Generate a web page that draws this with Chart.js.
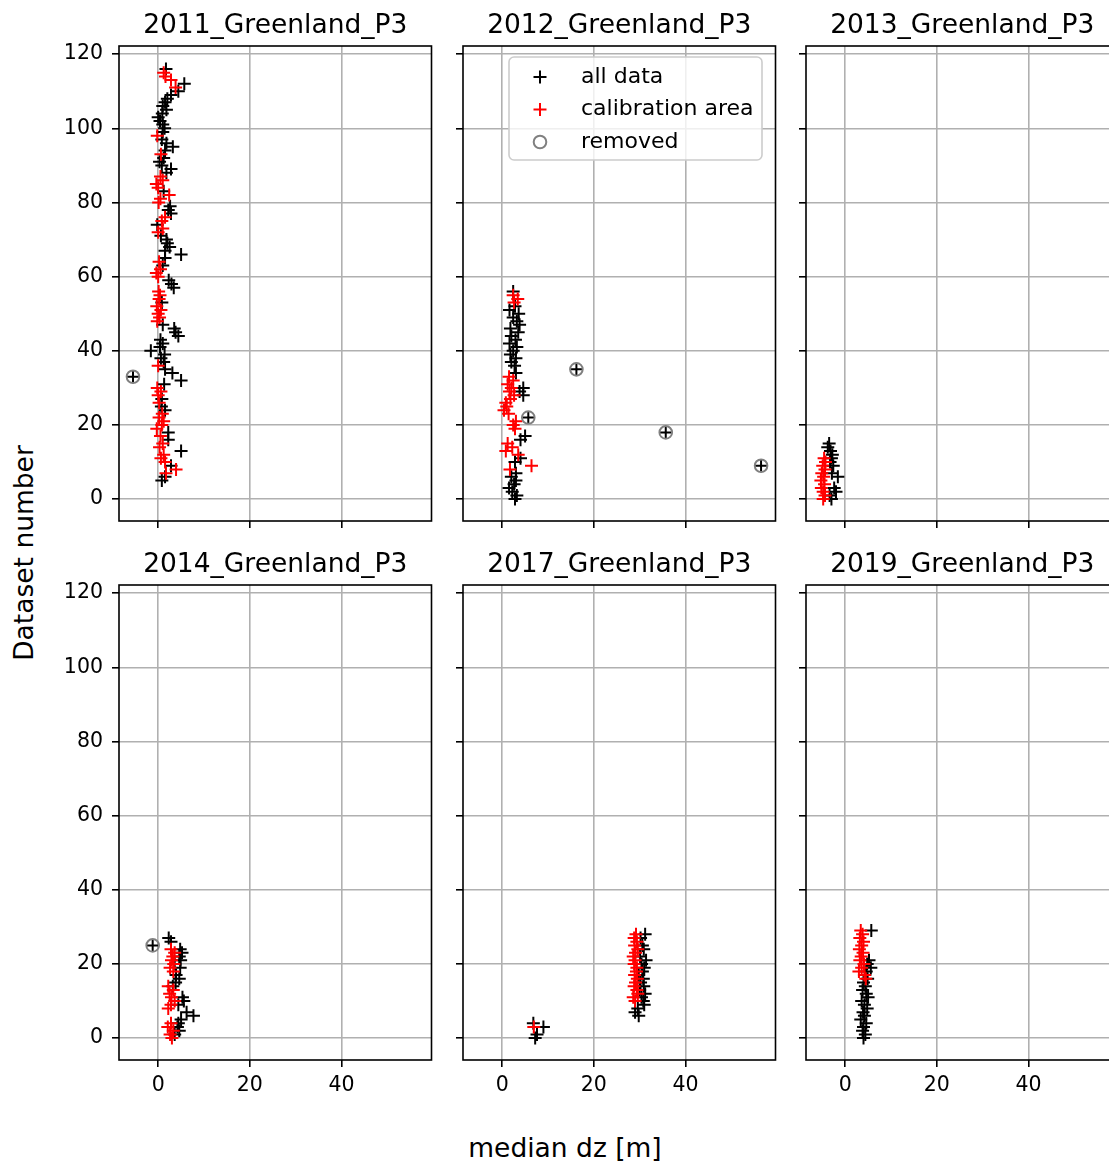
<!DOCTYPE html>
<html>
<head>
<meta charset="utf-8">
<script src="https://cdn.jsdelivr.net/npm/chart.js@4.4.1/dist/chart.umd.min.js"></script>
<style>
html, body { margin: 0; padding: 0; background: #fff; }
body { width: 1109px; height: 1162px; position: relative; overflow: hidden; font-family: "DejaVu Sans", sans-serif; }
.panel { position: absolute; }
.label { position: absolute; font-size: 26.5px; color: #000; white-space: nowrap; line-height: 1; }
</style>
</head>
<body>
<div class="label" id="xlab" style="left:565px; top:1148px; transform:translate(-50%,-50%);">median dz [m]</div>
<div class="label" id="ylab" style="left:24px; top:553px; transform:translate(-50%,-50%) rotate(-90deg);">Dataset number</div>
<script>
const titles = ['2011_Greenland_P3', '2012_Greenland_P3', '2013_Greenland_P3',
                '2014_Greenland_P3', '2017_Greenland_P3', '2019_Greenland_P3'];
const seriesLabels = ['all data', 'calibration area', 'removed'];
const xTicks = [0, 20, 40];
const yTicks = [0, 20, 40, 60, 80, 100, 120];

// [dataset number, median dz]  -- points not in the calibration area
const other2011 = [[5,0.8],[6,1.5],[9,2.8],[13,5.0],[16,2.2],[18,2.2],[24,1.5],[25,0.7],[27,0.8],[31,1.3],
  [32,5.0],[34,3.1],[35,1.5],[37,1.2],[38,0.6],[39,1.4],[40,-1.6],[41,0.4],[42,1.0],[43,0.5],[44,4.4],
  [45,3.8],[46,3.5],[47,1.0],[53,0.8],[57,3.4],[58,2.9],[59,2.3],[63,1.0],[65,1.5],[66,5.0],[67,1.5],
  [68,2.5],[69,2.0],[70,1.8],[71,0.6],[74,-0.2],[77,2.8],[78,2.2],[79,2.6],[83,1.2],[88,1.8],[89,2.8],
  [90,0.8],[91,0.3],[92,1.2],[94,1.5],[95,3.2],[96,1.8],[97,0.8],[99,1.0],[100,1.4],[101,1.0],[102,0.4],
  [103,0.0],[104,0.9],[105,1.8],[106,1.0],[107,1.5],[108,2.0],[109,2.8],[110,4.4],[112,5.7],[116,1.7]];
const calib2011 = [[7,1.7],[8,3.9],[10,1.5],[11,0.6],[12,1.2],[14,0.3],[15,1.0],[17,0.5],[19,-0.3],[20,0.8],
  [21,1.2],[22,0.2],[23,0.9],[26,0.2],[28,0.0],[29,0.6],[30,-0.2],[36,0.0],[48,-0.2],[49,0.3],[50,0.0],
  [51,0.6],[52,-0.3],[54,0.2],[55,0.4],[56,0.1],[60,0.0],[61,-0.4],[62,0.5],[64,0.2],[72,0.0],[73,1.0],
  [75,0.8],[76,1.5],[80,0.1],[81,0.5],[82,2.4],[84,0.0],[85,-0.4],[86,1.0],[87,0.5],[93,0.6],[98,-0.2],
  [111,3.8],[113,2.8],[114,1.6],[115,1.2]];
const removed2011 = [[33,-5.5]];

const other2012 = [[0,2.8],[1,3.2],[2,2.2],[3,1.5],[4,2.6],[5,3.0],[6,2.0],[7,3.0],[10,2.8],[11,4.0],
  [16,4.0],[17,5.0],[28,4.6],[29,3.8],[30,4.6],[34,3.0],[36,2.7],[37,2.0],[38,3.0],[39,1.8],[40,2.4],
  [41,3.2],[42,1.6],[43,2.9],[44,2.0],[45,3.5],[46,1.8],[47,3.8],[48,3.2],[49,2.4],[50,3.6],[51,1.6],
  [52,2.8],[56,2.4]];
const calib2012 = [[8,1.7],[9,6.4],[12,3.5],[13,0.8],[14,2.2],[15,1.2],[19,2.8],[20,2.4],[21,3.0],[23,1.4],
  [24,0.4],[25,1.0],[26,0.8],[27,1.8],[28,2.6],[29,1.6],[30,2.0],[31,1.2],[32,2.4],[33,1.5],[53,2.6],
  [54,3.4],[55,2.4]];
const removed2012 = [[22,5.7],[35,16.2],[18,35.7],[9,56.5]];

const other2013 = [[15,-3.5],[14,-3.8],[13,-3.2],[12,-2.8],[11,-3.0],[10,-3.3],[9,-2.6],[7,-2.9],[6,-1.6],
  [3,-2.4],[2,-2.0],[1,-3.4],[0,-3.0]];
const calib2013 = [[11,-4.6],[10,-4.3],[9,-4.9],[8,-4.4],[7,-5.1],[6,-4.7],[5,-5.3],[4,-4.5],[3,-5.2],
  [2,-4.8],[1,-4.4],[0,-4.8]];
const removed2013 = [];

const other2014 = [[27,2.3],[26,2.8],[24,4.8],[23,5.2],[22,4.6],[21,4.9],[20,3.6],[19,4.8],[17,3.9],
  [16,4.6],[15,3.8],[14,3.2],[11,5.3],[10,5.6],[9,4.4],[7,6.2],[6,7.7],[5,5.0],[4,4.4],[3,4.2],[2,4.6],[1,3.6]];
const calib2014 = [[24,2.8],[23,3.6],[22,3.2],[21,2.9],[20,3.4],[19,2.6],[18,3.3],[14,2.2],[13,3.3],
  [12,2.5],[11,2.9],[10,3.6],[9,2.8],[8,2.2],[4,2.8],[3,2.1],[2,3.3],[1,2.6],[0,3.0]];
const removed2014 = [[25,-1.2]];

const other2017 = [[28,31.2],[27,30.2],[25,30.6],[24,30.9],[22,30.1],[21,31.4],[20,30.4],[19,31.0],
  [18,30.6],[17,29.8],[16,30.8],[15,30.2],[14,30.9],[13,30.0],[12,31.2],[11,30.4],[10,30.8],[9,31.0],
  [8,29.6],[7,29.0],[6,29.8],[4,6.8],[3,9.0],[1,7.6],[0,7.2]];
const calib2017 = [[28,29.2],[27,28.8],[26,29.4],[25,28.9],[24,29.6],[23,29.1],[22,28.6],[21,29.0],
  [20,28.8],[19,29.4],[18,29.3],[17,28.9],[16,29.5],[15,29.1],[14,28.8],[13,29.4],[12,29.6],[11,28.6],
  [10,29.0],[3,6.9]];
const removed2017 = [];

const other2019 = [[29,5.7],[21,5.2],[20,4.8],[19,5.6],[18,4.6],[17,4.3],[16,4.9],[15,4.0],[14,4.4],
  [13,3.8],[12,4.6],[11,5.0],[10,3.6],[9,4.2],[8,4.8],[7,3.9],[6,4.2],[5,3.4],[4,4.6],[3,4.0],[2,3.8],
  [1,4.4],[0,4.0]];
const calib2019 = [[29,3.4],[28,3.8],[27,3.2],[26,4.0],[25,3.6],[24,3.1],[23,3.9],[22,3.5],[21,3.2],
  [20,4.1],[19,3.6],[18,3.0],[17,4.2],[16,4.5]];
const removed2019 = [];

const otherSets = [other2011, other2012, other2013, other2014, other2017, other2019];
const calibSets = [calib2011, calib2012, calib2013, calib2014, calib2017, calib2019];
const removedSets = [removed2011, removed2012, removed2013, removed2014, removed2017, removed2019];

// layout of the 2 x 3 grid
const colLeft = [119, 463, 806];
const rowTop = [46, 585];
const plotW = 312, plotH = 475, titleH = 38, padRight = 3;
const font = '"DejaVu Sans", sans-serif';

const toPts = arr => arr.map(p => ({ x: p[1], y: p[0] }));

const frame = {
  id: 'frame',
  afterDraw(chart) {
    const a = chart.chartArea, ctx = chart.ctx;
    ctx.save();
    ctx.strokeStyle = '#000';
    ctx.lineWidth = 1.6;
    ctx.strokeRect(a.left, a.top, a.right - a.left, a.bottom - a.top);
    ctx.restore();
  }
};

function marker(ctx, ds, x, y) {
  ctx.save();
  ctx.strokeStyle = ds.pointBorderColor;
  ctx.lineWidth = ds.pointBorderWidth;
  ctx.beginPath();
  if (ds.pointStyle === 'cross') {
    const r = ds.pointRadius;
    ctx.moveTo(x - r, y); ctx.lineTo(x + r, y);
    ctx.moveTo(x, y - r); ctx.lineTo(x, y + r);
  } else {
    ctx.arc(x, y, ds.pointRadius, 0, Math.PI * 2);
  }
  ctx.stroke();
  ctx.restore();
}

const boxLegend = {
  id: 'boxLegend',
  afterDraw(chart) {
    const a = chart.chartArea, ctx = chart.ctx;
    const x0 = a.left + 46, y0 = a.top + 11, w = 253, h = 103;
    ctx.save();
    ctx.beginPath();
    ctx.roundRect(x0, y0, w, h, 5);
    ctx.fillStyle = 'rgba(255,255,255,0.8)';
    ctx.fill();
    ctx.strokeStyle = '#cccccc';
    ctx.lineWidth = 1.6;
    ctx.stroke();
    ctx.font = '22px ' + font;
    ctx.textBaseline = 'middle';
    ctx.fillStyle = '#000';
    chart.data.datasets.forEach((ds, i) => {
      const cy = y0 + 20 + i * 32.5;
      marker(ctx, ds, x0 + 31, cy);
      ctx.fillText(ds.label, x0 + 72, cy);
    });
    ctx.restore();
  }
};

titles.forEach((title, i) => {
  const row = Math.floor(i / 3), col = i % 3;
  const yW = col === 0 ? 119 : 20;
  const xH = row === 1 ? 44 : 30;
  const div = document.createElement('div');
  div.className = 'panel';
  const w = yW + plotW + padRight, h = titleH + plotH + xH;
  div.style.left = (colLeft[col] - yW) + 'px';
  div.style.top = (rowTop[row] - titleH) + 'px';
  const cv = document.createElement('canvas');
  cv.width = w; cv.height = h;
  cv.style.width = w + 'px'; cv.style.height = h + 'px';
  div.appendChild(cv);
  document.body.appendChild(div);

  const grid = { color: '#b0b0b0', lineWidth: 1.6, tickColor: '#000', tickWidth: 1.6, tickLength: 7 };

  const chart = new Chart(cv, {
    type: 'scatter',
    data: {
      datasets: [
        { label: seriesLabels[0], data: toPts(otherSets[i].concat(removedSets[i])), order: 3,
          pointStyle: 'cross', pointRadius: 6.5, pointHoverRadius: 6.5,
          pointBorderColor: '#000000', pointBackgroundColor: '#000000', pointBorderWidth: 2 },
        { label: seriesLabels[1], data: toPts(calibSets[i]), order: 2,
          pointStyle: 'cross', pointRadius: 6.5, pointHoverRadius: 6.5,
          pointBorderColor: '#ff0000', pointBackgroundColor: '#ff0000', pointBorderWidth: 2 },
        { label: seriesLabels[2], data: toPts(removedSets[i]), order: 1,
          pointStyle: 'circle', pointRadius: 6.3, pointHoverRadius: 6.3,
          pointBorderColor: '#808080', pointBackgroundColor: 'rgba(0,0,0,0)', pointBorderWidth: 2 }
      ]
    },
    options: {
      responsive: false,
      maintainAspectRatio: false,
      animation: false,
      devicePixelRatio: 1,
      layout: { padding: { left: 0, right: padRight, top: 0, bottom: 0 } },
      scales: {
        x: {
          type: 'linear', min: -8.55, max: 59.65,
          grid: grid,
          border: { display: false },
          afterBuildTicks: s => { s.ticks = xTicks.map(v => ({ value: v })); },
          afterFit: s => { s.height = xH; s.paddingLeft = 0; s.paddingRight = 0; },
          ticks: { color: '#000', padding: 6, font: { family: font, size: 20.5 },
                   maxRotation: 0, autoSkip: false,
                   callback: v => row === 1 ? v : '' }
        },
        y: {
          type: 'linear', min: -5.9, max: 122.2,
          grid: grid,
          border: { display: false },
          afterBuildTicks: s => { s.ticks = yTicks.map(v => ({ value: v })); },
          afterFit: s => { s.width = yW; s.paddingTop = 0; s.paddingBottom = 0; },
          ticks: { color: '#000', padding: 9, font: { family: font, size: 20.5 },
                   autoSkip: false,
                   callback: v => col === 0 ? v : '' }
        }
      },
      plugins: {
        legend: { display: false },
        tooltip: { enabled: false },
        title: { display: true, text: title, fullSize: false, color: '#000',
                 font: { family: font, size: 26.5, weight: 'normal', lineHeight: 1.2 },
                 padding: { top: 2, bottom: 4.2 } }
      }
    },
    plugins: i === 1 ? [frame, boxLegend] : [frame]
  });

  // grow the canvas if the library kept extra room beside the plot area
  const a = chart.chartArea;
  const dx = Math.round(plotW - (a.right - a.left));
  const dy = Math.round(plotH - (a.bottom - a.top));
  if (dx !== 0 || dy !== 0) chart.resize(w + dx, h + dy);
});
</script>
</body>
</html>
